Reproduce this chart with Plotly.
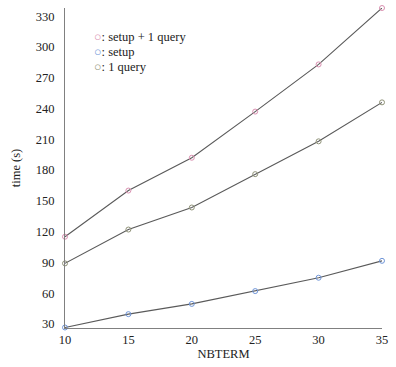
import plotly.graph_objects as go

nbterm = [10, 15, 20, 25, 30, 35]
setup_query = [115, 160, 192, 237, 283, 338]
setup = [26.5, 39.5, 49.5, 62, 75, 91.5]
one_query = [89, 122, 143.5, 176, 208, 246]

series_names = ["setup + 1 query", "setup", "1 query"]
series_colors = ["#d98fb0", "#6f95d8", "#8f9278"]
series_values = [setup_query, setup, one_query]

y_ticks = [30, 60, 90, 120, 150, 180, 210, 240, 270, 300, 330]
x_ticks = [10, 15, 20, 25, 30, 35]

font = "Times New Roman, Liberation Serif, serif"

fig = go.Figure()
for name, col, vals in zip(series_names, series_colors, series_values):
    fig.add_trace(go.Scatter(
        x=nbterm, y=vals, mode="lines+markers", name=name,
        line=dict(color="#5a5a5a", width=1.1),
        marker=dict(symbol="circle-open", size=5, color=col, line=dict(width=1, color=col)),
        showlegend=False, cliponaxis=False,
    ))

legend_y = [0.910, 0.862, 0.815]
for name, col, ly in zip(series_names, series_colors, legend_y):
    fig.add_annotation(
        xref="paper", yref="paper", x=0.085, y=ly,
        xanchor="left", yanchor="middle", showarrow=False,
        text=f"<span style='color:{col}'>○</span>: {name}",
        font=dict(family=font, size=12.5, color="#222"),
    )

fig.update_layout(
    width=396, height=367,
    margin=dict(l=65, r=11, t=8, b=38),
    paper_bgcolor="white", plot_bgcolor="white",
    font=dict(family=font, size=12.5, color="#222"),
    xaxis=dict(
        range=[10, 35], tickvals=x_ticks, showgrid=False, zeroline=False,
        showline=True, linecolor="#808080", linewidth=1, ticks="",
        tickfont=dict(family=font, size=12.5),
        title=dict(text="NBTERM", font=dict(family=font, size=12.5), standoff=3),
    ),
    yaxis=dict(
        range=[26, 338], tickvals=y_ticks, showgrid=False, zeroline=False,
        showline=True, linecolor="#808080", linewidth=1, ticks="", ticklabelstandoff=7,
        tickfont=dict(family=font, size=12.5),
        title=dict(text="time (s)", font=dict(family=font, size=12.5), standoff=12),
    ),
)

fig.write_html("out.html")
